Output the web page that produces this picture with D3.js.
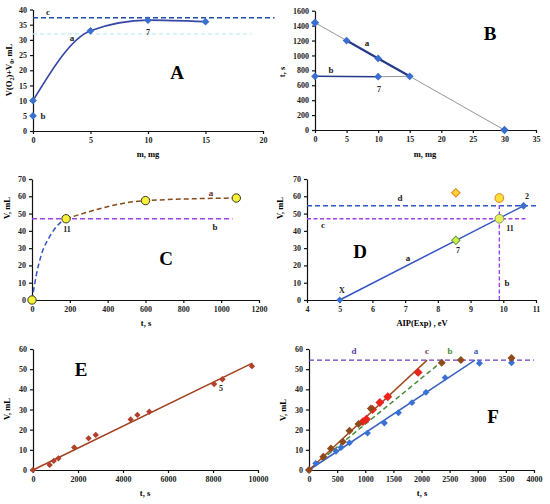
<!DOCTYPE html>
<html>
<head>
<meta charset="utf-8">
<script src="https://cdn.jsdelivr.net/npm/d3@7"></script>
<style>
  body { margin: 0; background: #fff; }
  svg text { font-family: "Liberation Serif", "DejaVu Serif", serif; }
  .axis text { font-size: 8px; font-weight: bold; fill: #222; }
  .axis path, .axis line { stroke: #111; stroke-width: 1.2; }
</style>
</head>
<body>
<svg id="chart" width="550" height="504"></svg>
<script>
// A: V(O2)+V0 vs m
var massA = [0, 5, 10, 15];
var volA = [10, 33, 36.5, 36];
var volAb = 5;
var levelAc = 37.3;
var levelAghost = 32;

// B: t vs m
var massBa = [5, 10, 15];
var timeBa = [1200, 960, 720];
var massBb = [0, 10];
var timeBb = [720, 715];
var massBfit = [0, 30];
var timeBfit = [1440, 0];

// C: V vs t
var timeC = [0, 180, 600, 1080];
var volC = [0, 47, 57.5, 59];
var timeCblue = [0, 23, 49, 93, 137, 180];
var volCblue = [0, 14.5, 26, 36.6, 43.4, 47];
var levelCb = 47;
var endCb = 1060;

// D: V vs AIP(Exp)
var aipDa = [5, 10.62];
var volDa = [0, 54.5];
var levelDd = 54.5;
var levelDc = 47;
var aipDb = 9.88;
var topDb = 58;

// E: V vs t
var timeE = [0, 740, 920, 1130, 1830, 2470, 2790, 4340, 4640, 5170, 8050, 8420, 9730];
var volE = [0, 2.5, 4.5, 5.8, 11.2, 15.7, 17.4, 25.1, 27.3, 28.9, 42.6, 45, 51.5];
var timeEfit = [0, 9750];
var volEfit = [0, 53];

// F: V vs t
var timeFa = [0, 120, 480, 570, 720, 1040, 1340, 1590, 1830, 2080, 2420, 3030, 3600];
var volFa = [0, 3.3, 9.3, 11.2, 13.5, 18.3, 23.3, 28.4, 33.4, 38.5, 45.8, 52.9, 53.2];
var timeFbrown = [0, 255, 390, 600, 720, 880, 1100, 2360, 2700, 3600];
var volFbrown = [0, 6.6, 10.7, 14, 19.5, 22.8, 30.5, 53.2, 54.5, 55.5];
var timeFred = [960, 1020, 1130, 1260, 1400, 1940];
var volFred = [24, 25.2, 30, 33.5, 36.3, 48.4];
var fitFa = [2950, 54.5];
var fitFb = [2350, 53.5];
var fitFc = [2100, 54.5];
var levelFd = 54.5;

var svg = d3.select("#chart");

function makePanel(cfg) {
	var g = svg.append("g");
	var x = d3.scaleLinear().domain(cfg.xd).range([cfg.x0, cfg.x1]);
	var y = d3.scaleLinear().domain(cfg.yd).range([cfg.y0, cfg.y1]);
	g.append("g").attr("class", "axis")
		.attr("transform", "translate(0," + cfg.y0 + ")")
		.call(d3.axisBottom(x).tickValues(d3.range(cfg.xd[0], cfg.xd[1] + 1e-9, cfg.xs))
			.tickFormat(d => String(d))
			.tickSize(3).tickSizeOuter(0).tickPadding(3));
	g.append("g").attr("class", "axis")
		.attr("transform", "translate(" + cfg.x0 + ",0)")
		.call(d3.axisLeft(y).tickValues(d3.range(cfg.yd[0], cfg.yd[1] + 1e-9, cfg.ys))
			.tickFormat(d => String(d))
			.tickSize(3).tickSizeOuter(0).tickPadding(3));
	g.append("text").attr("x", cfg.xt[0]).attr("y", cfg.xt[1])
		.attr("text-anchor", "middle").attr("font-size", 8.5).attr("font-weight", "bold")
		.text(cfg.xlabel);
	var yl = g.append("text")
		.attr("transform", "translate(" + cfg.yt[0] + "," + cfg.yt[1] + ") rotate(-90)")
		.attr("text-anchor", "middle").attr("font-size", 8.5).attr("font-weight", "bold");
	if (cfg.ylabelHtml) cfg.ylabelHtml(yl); else yl.text(cfg.ylabel);
	g.append("text").attr("x", cfg.big[0]).attr("y", cfg.big[1])
		.attr("text-anchor", "middle").attr("font-size", 19).attr("font-weight", "bold")
		.text(cfg.name);
	return {g: g, x: x, y: y};
}

function zip(a, b) { return a.map((v, i) => [v, b[i]]); }

function line(p, pts, color, width, dash, curve) {
	var gen = d3.line().x(d => p.x(d[0])).y(d => p.y(d[1]));
	if (curve) gen.curve(curve);
	p.g.append("path").attr("d", gen(pts))
		.attr("fill", "none").attr("stroke", color).attr("stroke-width", width)
		.attr("stroke-dasharray", dash || null);
}

// Excel-style diamond = square turned 45 degrees
var DIAMOND = "diamond";
function marks(p, pts, type, size, fill, stroke) {
	var rot = type === DIAMOND ? " rotate(45)" : "";
	var sym = type === DIAMOND ? d3.symbolSquare : type;
	p.g.selectAll(null).data(pts).join("path")
		.attr("transform", d => "translate(" + p.x(d[0]) + "," + p.y(d[1]) + ")" + rot)
		.attr("d", d3.symbol(sym, size))
		.attr("fill", fill).attr("stroke", stroke || "none").attr("stroke-width", 1);
}

function label(p, x, y, txt, size, color) {
	p.g.append("text").attr("x", x).attr("y", y).attr("text-anchor", "middle")
		.attr("font-size", size || 9).attr("font-weight", "bold").attr("fill", color || "#222")
		.text(txt);
}

// ---------- A ----------
var pA = makePanel({xd: [0, 20], xs: 5, yd: [0, 40], ys: 5,
	x0: 33, x1: 263, y0: 131, y1: 9.5,
	xt: [148, 157], yt: [12, 70], big: [177, 79], name: "A", xlabel: "m, mg",
	ylabelHtml: function (t) {
		t.append("tspan").text("V(O");
		t.append("tspan").attr("font-size", 6).attr("dy", 2).text("2");
		t.append("tspan").attr("dy", -2).text(")+V");
		t.append("tspan").attr("font-size", 6).attr("dy", 2).text("0");
		t.append("tspan").attr("dy", -2).text(", mL");
	}});
line(pA, [[0, levelAghost], [19, levelAghost]], "#bff0f5", 1.2, "4,3");
line(pA, [[0, levelAc], [21, levelAc]], "#1f4e9c", 1.6, "5,3");
line(pA, zip(massA, volA), "#3646a6", 1.6, null, d3.curveMonotoneX);
marks(pA, zip(massA, volA), DIAMOND, 30, "#3a6fd0");
marks(pA, [[0, volAb]], DIAMOND, 30, "#3a6fd0");
label(pA, 48, 15, "c", 9);
label(pA, 72, 41, "a", 9);
label(pA, 148, 35, "7", 8);
label(pA, 43, 119, "b", 9);

// ---------- B ----------
var pB = makePanel({xd: [0, 35], xs: 5, yd: [0, 1600], ys: 200,
	x0: 315, x1: 536, y0: 130, y1: 10.7,
	xt: [425, 157], yt: [285, 72], big: [490, 40], name: "B", xlabel: "m, mg", ylabel: "t, s"});
line(pB, zip(massBfit, timeBfit), "#8a8a8a", 0.9);
line(pB, [[massBb[1], timeBb[1]], [massBa[2], timeBa[2]]], "#8a8a8a", 0.9);
line(pB, zip(massBa, timeBa), "#263a8c", 2.2);
line(pB, zip(massBb, timeBb), "#263a8c", 1.6);
marks(pB, zip(massBa, timeBa), DIAMOND, 30, "#3a6fd0");
marks(pB, zip(massBb, timeBb), DIAMOND, 30, "#3a6fd0");
marks(pB, zip(massBfit, timeBfit), DIAMOND, 36, "#3a6fd0");
label(pB, 367, 46, "a", 9);
label(pB, 331, 73, "b", 9);
label(pB, 379, 92, "7", 8);

// ---------- C ----------
var pC = makePanel({xd: [0, 1200], xs: 200, yd: [0, 70], ys: 10,
	x0: 32, x1: 259, y0: 300, y1: 179,
	xt: [146, 326], yt: [10, 208], big: [166, 265], name: "C", xlabel: "t, s", ylabel: "V, mL"});
line(pC, [[0, levelCb], [endCb, levelCb]], "#9a44e8", 1.4, "5,3");
line(pC, zip(timeCblue, volCblue), "#3453c4", 1.5, "5,3", d3.curveMonotoneX);
line(pC, zip(timeC.slice(1), volC.slice(1)), "#8b4a1a", 1.5, "5,3", d3.curveMonotoneX);
marks(pC, zip(timeC, volC), d3.symbolCircle, 55, "#f5f03a", "#3a3a20");
label(pC, 211, 196, "a", 9, "#6a2a3a");
label(pC, 215, 230, "b", 9);
label(pC, 67, 232, "11", 8);

// ---------- D ----------
var pD = makePanel({xd: [4, 11], xs: 1, yd: [0, 70], ys: 10,
	x0: 307, x1: 536, y0: 300, y1: 179,
	xt: [422, 326], yt: [283, 208], big: [360, 258], name: "D", xlabel: "AIP(Exp) , eV", ylabel: "V, mL"});
line(pD, [[4, levelDd], [11, levelDd]], "#3453c4", 1.4, "5,3");
line(pD, [[4, levelDc], [10.7, levelDc]], "#a040e0", 1.4, "4,2.5");
line(pD, [[aipDb, 0], [aipDb, topDb]], "#a040e0", 1.4, "4,2.5");
line(pD, zip(aipDa, volDa), "#3453c4", 1.5);
marks(pD, [[5, 0]], DIAMOND, 24, "#3a6fd0");
marks(pD, [[10.62, 54.5]], DIAMOND, 30, "#3a6fd0");
marks(pD, [[8.55, 34.5]], DIAMOND, 36, "#d2ec4a", "#5a9a3a");
marks(pD, [[9.88, 47]], d3.symbolCircle, 60, "#e4f05a", "#8a9a6a");
marks(pD, [[8.55, 62]], DIAMOND, 36, "#ffd23a", "#e0801a");
marks(pD, [[9.88, 59]], d3.symbolCircle, 60, "#ffe03a", "#e0801a");
label(pD, 400, 201, "d", 9);
label(pD, 323, 228, "c", 9);
label(pD, 408, 261, "a", 9);
label(pD, 507, 286, "b", 9);
label(pD, 342, 293, "X", 8);
label(pD, 458, 253, "7", 8);
label(pD, 510, 231, "11", 8);
label(pD, 527, 199, "2", 8);

// ---------- E ----------
var pE = makePanel({xd: [0, 10000], xs: 2000, yd: [0, 60], ys: 10,
	x0: 33, x1: 258, y0: 470, y1: 349,
	xt: [145, 496], yt: [10, 409], big: [81, 376], name: "E", xlabel: "t, s", ylabel: "V, mL"});
line(pE, zip(timeEfit, volEfit), "#a0401e", 1.5);
marks(pE, zip(timeE, volE), DIAMOND, 20, "#b2402a");
label(pE, 221, 391, "5", 8);

// ---------- F ----------
var pF = makePanel({xd: [0, 4000], xs: 500, yd: [0, 60], ys: 10,
	x0: 309, x1: 534, y0: 470, y1: 349,
	xt: [422, 496], yt: [286, 410], big: [493, 423], name: "F", xlabel: "t, s", ylabel: "V, mL"});
line(pF, [[0, levelFd], [4000, levelFd]], "#6a3fc8", 1.4, "5,3");
line(pF, [[0, 0], fitFb], "#4a8a3a", 1.5, "5,3");
line(pF, [[0, 0], fitFa], "#3a62c0", 1.5);
line(pF, [[0, 0], fitFc], "#a24a20", 1.5);
marks(pF, zip(timeFa, volFa), DIAMOND, 24, "#3a72d4");
marks(pF, zip(timeFred, volFred), DIAMOND, 40, "#e8241c");
marks(pF, zip(timeFbrown, volFbrown), DIAMOND, 32, "#8e4a1a");
label(pF, 354, 354, "d", 9, "#5a3a9a");
label(pF, 427, 354, "c", 9, "#7a2a3a");
label(pF, 450, 354, "b", 9, "#4a8a3a");
label(pF, 476, 354, "a", 9, "#3a62c0");
</script>
</body>
</html>
